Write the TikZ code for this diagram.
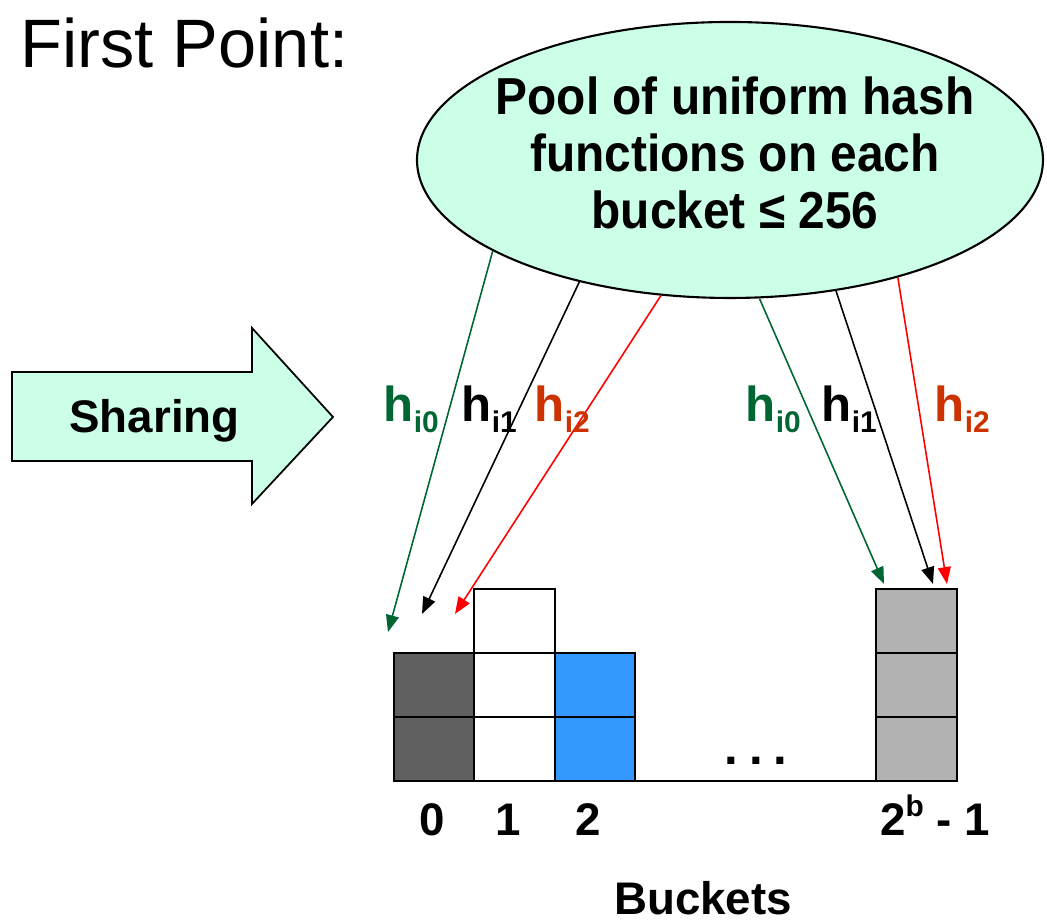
\documentclass[tikz,border=0pt]{standalone}
\usepackage{fontspec}
\setmainfont{Liberation Sans}
\newfontfamily\poolfont{Liberation Sans}[FakeStretch=0.92]
\usetikzlibrary{calc,positioning,arrows.meta,shapes.geometric}
\definecolor{poolmint}{RGB}{204,255,232}
\definecolor{hashgreen}{RGB}{0,102,51}
\definecolor{hashred}{RGB}{255,0,0}
\definecolor{labelred}{RGB}{204,51,0}
\definecolor{darkcell}{RGB}{96,96,96}
\definecolor{bluecell}{RGB}{51,153,255}
\definecolor{lightcell}{RGB}{178,178,178}

\begin{document}
\begin{tikzpicture}[x=1cm,y=1cm]
  \tikzset{
    pool/.style={ellipse,draw=black,line width=0.6pt,fill=poolmint,minimum width=6.26cm,minimum height=2.76cm,inner sep=0pt},
    cell/.style={rectangle,draw=black,line width=0.7pt,minimum width=0.805cm,minimum height=0.64cm,inner sep=0pt,outer sep=0pt},
    hash/.style={line width=0.45pt,-{Triangle[length=4.8pt,width=3.7pt]}},
    blab/.style={inner sep=0pt,font=\fontsize{13}{15}\selectfont\bfseries},
    hlab/.style={anchor=base west,inner sep=0pt,font=\fontsize{14}{16}\selectfont\bfseries},
  }
  \useasboundingbox (0,0) rectangle (10.47,9.22);

  \node[anchor=base west,inner sep=0pt,font=\fontsize{19.5}{22}\selectfont] (title) at (0.20,8.54) {First Point:};

  % sharing arrow
  \draw[fill=poolmint,line width=0.5pt] (0.12,5.50) -- (2.52,5.50) -- (2.52,5.94) -- (3.33,5.05)
    -- (2.52,4.18) -- (2.52,4.61) -- (0.12,4.61) -- cycle;
  \node[blab,anchor=base] (sharing) at (1.545,4.89) {Sharing};

  % pool of hash functions
  \node[pool] (pool) at (7.30,7.62) {};
  \node[align=center,inner sep=0pt,font=\poolfont\fontsize{14.8}{16.2}\selectfont\bfseries] (pooltext) at (7.35,7.69)
    {Pool of uniform hash\\functions on each\\bucket ≤ 256};

  % buckets
  \foreach \c/\cx/\n/\col in {0/4.34/2/darkcell,1/5.145/3/white,2/5.95/2/bluecell,3/9.165/3/lightcell} {
    \foreach \r in {1,...,\n} {
      \node[cell,fill=\col] (b\c-\r) at (\cx,{1.73+(\r-1)*0.64}) {};
    }
  }
  \draw[line width=0.7pt] (b2-1.south east) -- (b3-1.south west);
  \node[anchor=base,inner sep=0pt,font=\fontsize{14}{16}\selectfont\bfseries] (dots) at (7.56,1.57)
    {.\hspace{0.22em}.\hspace{0.22em}.};

  % arrow tips
  \coordinate (t1) at (3.88,2.90);
  \coordinate (t2) at (4.22,3.08);
  \coordinate (t3) at (4.55,3.08);
  \coordinate (t4) at (8.84,3.38);
  \coordinate (t5) at (9.33,3.38);
  \coordinate (t6) at (9.47,3.38);
  \foreach \a/\t/\col in {201/t1/hashgreen,219/t2/black,243/t3/hashred,282/t4/hashgreen,309/t5/black,325/t6/hashred}
    \draw[hash,\col] (pool.\a) -- (\t);

  \foreach \x/\s/\col [count=\k] in {3.83/0/hashgreen,4.61/1/black,5.34/2/labelred,7.45/0/hashgreen,8.21/1/black,9.34/2/labelred}
    \node[hlab,text=\col] (h\k) at (\x,5.00) {h\raisebox{-3pt}{\fontsize{8.5}{10}\selectfont i\s}};

  % bucket labels
  \node[blab,anchor=base] (n0) at (4.32,0.86) {0};
  \node[blab,anchor=base] (n1) at (5.08,0.86) {1};
  \node[blab,anchor=base] (n2) at (5.88,0.86) {2};
  \node[blab,anchor=base] (nb) at (9.35,0.86) {2\raisebox{0.42em}{\fontsize{8.5}{10}\selectfont b} - 1};
  \node[blab,anchor=base] (buckets) at (7.03,0.07) {Buckets};
\end{tikzpicture}
\end{document}
